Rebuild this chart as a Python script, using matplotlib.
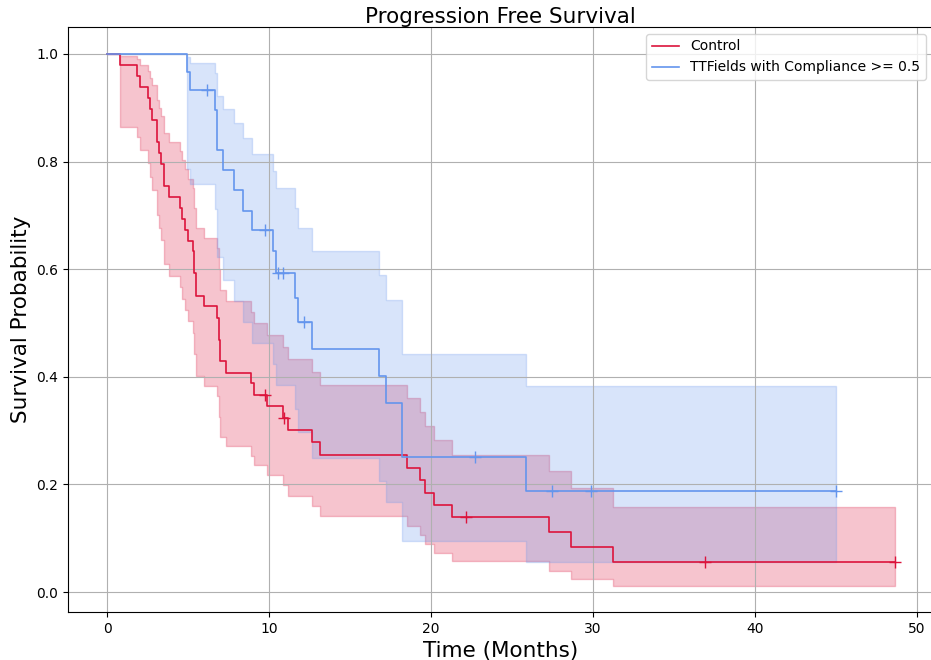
import matplotlib
matplotlib.use("Agg")
from matplotlib import pyplot as plt

# Control arm: step times, survival and 95% band
ctrl_t = [0, 0.82, 1.87, 2.04, 2.51, 2.65, 2.78, 3.07, 3.19, 3.33, 3.54, 3.85,
          4.50, 4.60, 4.80, 4.98, 5.29, 5.37, 5.47, 5.98, 6.80, 6.91, 6.98,
          7.35, 8.87, 9.07, 9.86, 10.88, 11.19, 12.67, 13.15, 18.50, 19.32,
          19.63, 20.20, 21.27, 27.30, 28.62, 31.25, 48.64]
ctrl_s = [1.0, 0.980, 0.959, 0.939, 0.918, 0.898, 0.878, 0.837, 0.816, 0.796,
          0.755, 0.735, 0.714, 0.694, 0.673, 0.653, 0.633, 0.592, 0.551, 0.531,
          0.510, 0.469, 0.429, 0.408, 0.388, 0.367, 0.346, 0.324, 0.301, 0.278,
          0.255, 0.231, 0.208, 0.185, 0.162, 0.139, 0.111, 0.083, 0.056, 0.056]
ctrl_lo = [1.0, 0.864, 0.846, 0.822, 0.797, 0.772, 0.748, 0.700, 0.677, 0.654,
           0.609, 0.587, 0.566, 0.545, 0.524, 0.503, 0.482, 0.442, 0.402, 0.383,
           0.364, 0.326, 0.289, 0.271, 0.253, 0.236, 0.217, 0.199, 0.179, 0.160,
           0.141, 0.123, 0.106, 0.089, 0.073, 0.058, 0.039, 0.024, 0.011, 0.011]
ctrl_hi = [1.0, 0.997, 0.990, 0.980, 0.969, 0.956, 0.943, 0.915, 0.900, 0.885,
           0.853, 0.836, 0.820, 0.803, 0.786, 0.768, 0.750, 0.714, 0.677, 0.658,
           0.639, 0.600, 0.561, 0.541, 0.520, 0.500, 0.478, 0.456, 0.433, 0.409,
           0.384, 0.360, 0.335, 0.309, 0.282, 0.255, 0.225, 0.193, 0.158, 0.158]
ctrl_cens_t = [9.75, 10.95, 22.14, 36.90, 48.64]
ctrl_cens_s = [0.367, 0.324, 0.139, 0.056, 0.056]

# TTFields arm (compliance >= 0.5)
ttf_t = [0, 4.96, 5.12, 6.69, 6.77, 7.14, 7.84, 8.40, 8.97, 10.27, 10.43,
         11.63, 11.77, 12.63, 16.79, 17.22, 18.23, 25.90, 44.98]
ttf_s = [1.0, 0.967, 0.933, 0.896, 0.821, 0.784, 0.747, 0.709, 0.672, 0.633,
         0.593, 0.547, 0.502, 0.452, 0.401, 0.351, 0.251, 0.188, 0.188]
ttf_lo = [1.0, 0.786, 0.759, 0.711, 0.622, 0.580, 0.540, 0.501, 0.463, 0.424,
          0.385, 0.340, 0.297, 0.250, 0.207, 0.167, 0.095, 0.055, 0.055]
ttf_hi = [1.0, 0.995, 0.983, 0.965, 0.922, 0.897, 0.871, 0.843, 0.814, 0.783,
          0.751, 0.714, 0.676, 0.634, 0.589, 0.543, 0.443, 0.383, 0.383]
ttf_cens_t = [6.19, 9.75, 10.58, 10.85, 12.18, 22.72, 27.49, 29.90, 44.98]
ttf_cens_s = [0.933, 0.672, 0.593, 0.593, 0.502, 0.251, 0.188, 0.188, 0.188]

red = 'crimson'
blue = 'cornflowerblue'

fig = plt.figure(figsize=(9.31, 6.60), dpi=100)
ax = fig.add_axes([68 / 931, 48 / 660, 865 / 931, 585 / 660])

# Control
ax.fill_between(ctrl_t, ctrl_lo, ctrl_hi, step='post', color=red, alpha=0.25)
ax.step(ctrl_t, ctrl_s, where='post', color=red, lw=1.2, label='Control')
ax.plot(ctrl_cens_t, ctrl_cens_s, '+', color=red, ms=9, mew=1)

# TTFields
ax.fill_between(ttf_t, ttf_lo, ttf_hi, step='post', color=blue, alpha=0.25)
ax.step(ttf_t, ttf_s, where='post', color=blue, lw=1.2,
        label='TTFields with Compliance >= 0.5')
ax.plot(ttf_cens_t, ttf_cens_s, '+', color=blue, ms=9, mew=1)

ax.set_xlim(-2.41, 51.0)
ax.set_ylim(-0.037, 1.05)
ax.set_xticks([0, 10, 20, 30, 40, 50])
ax.set_yticks([0.0, 0.2, 0.4, 0.6, 0.8, 1.0])
ax.tick_params(labelsize=10)
ax.grid(True)

ax.set_title('Progression Free Survival', fontsize=15.5, pad=3)
ax.set_xlabel('Time (Months)', fontsize=15.5)
ax.set_ylabel('Survival Probability', fontsize=15.5)
ax.legend(loc='upper right', fontsize=10)

fig.savefig('out.png', dpi=100)
